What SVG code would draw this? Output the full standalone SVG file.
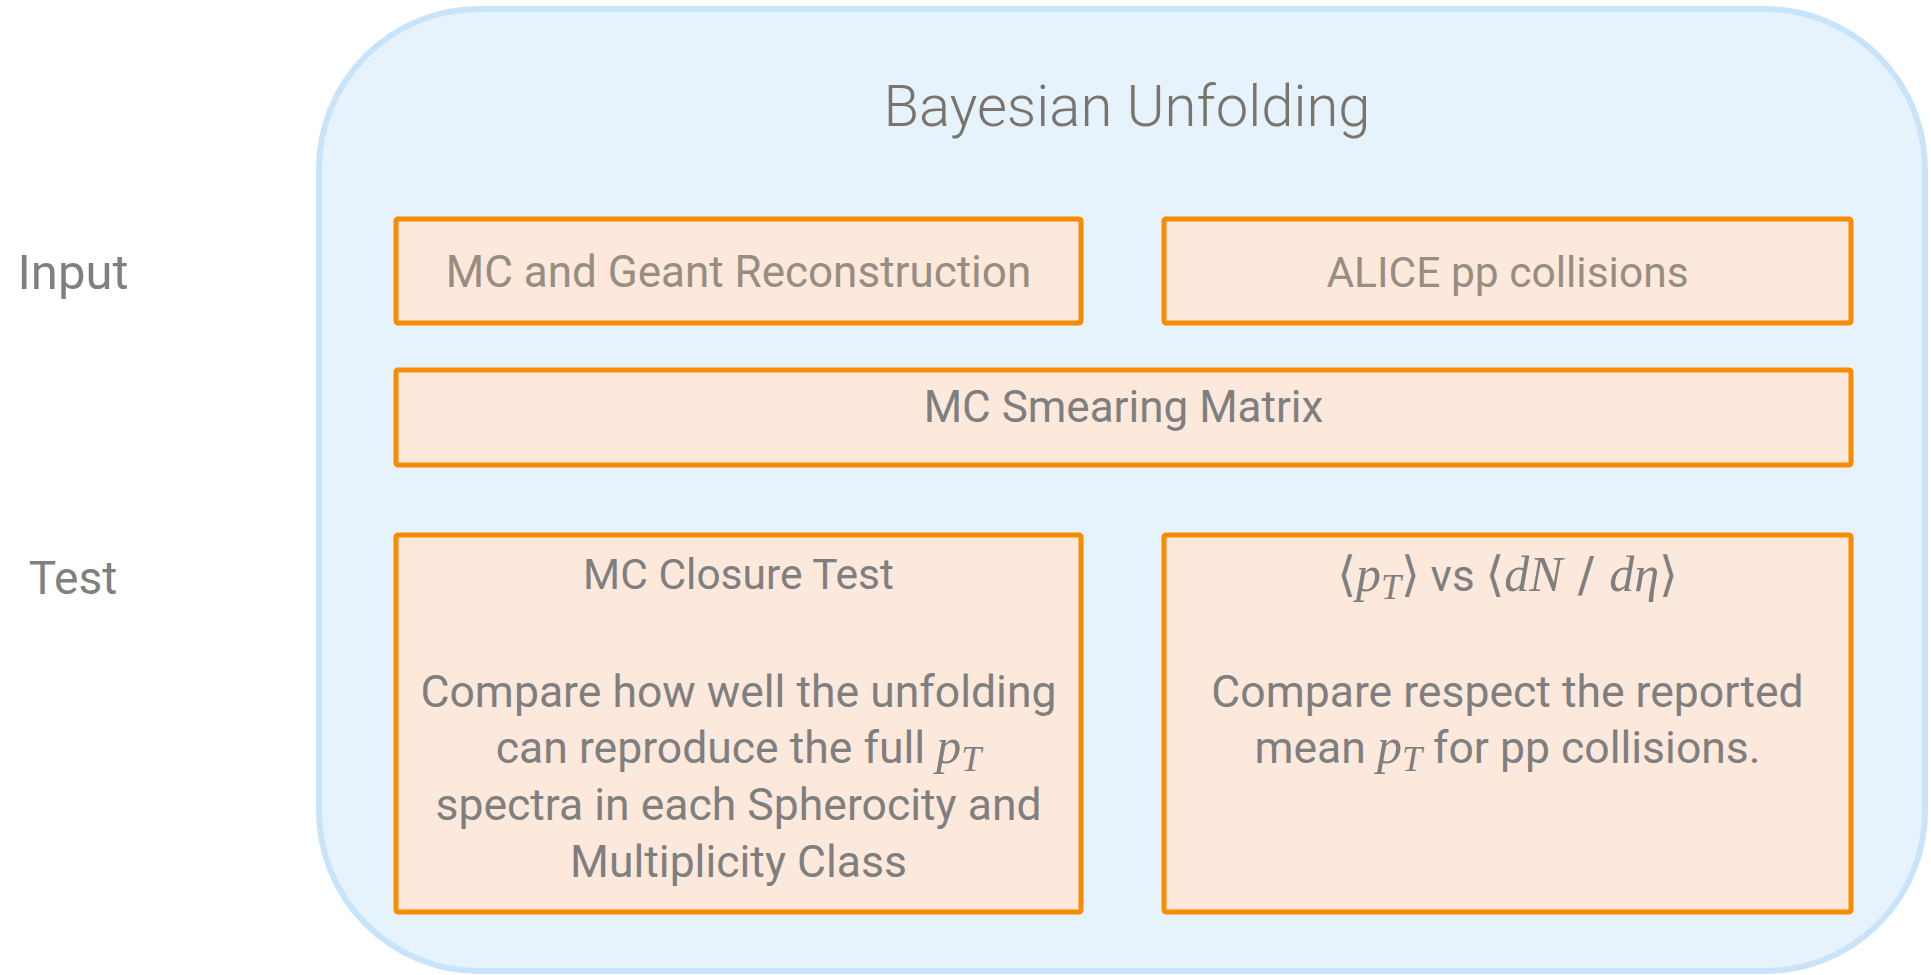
<svg xmlns="http://www.w3.org/2000/svg" width="1931" height="975" viewBox="0 0 1931 975">
  <style>
    .frame { fill: #e6f3fd; stroke: #c8e4fb; stroke-width: 6; }
    .box { fill: #fde8dc; stroke: #f98b00; stroke-width: 5; }
    text { font-family: Roboto, "Open Sans", "Liberation Sans", sans-serif; text-anchor: middle; }
    .title { font-size: 58px; font-weight: 300; fill: #7a756c; }
    .side { font-size: 49px; fill: #808080; }
    .warm { font-size: 44px; fill: #978d81; }
    .alice { font-size: 42.5px; }
    .head { font-size: 44px; fill: #7f7f7f; }
    .head2 { font-size: 42.5px; }
    .body { font-size: 44.5px; fill: #7f7f7f; }
    .m { font-family: "Liberation Serif", "DejaVu Serif", serif; font-style: italic; font-size: 50px; }
    .sub { font-size: 36px; }
    .br { font-family: "DejaVu Sans", "Liberation Serif", serif; font-style: normal; font-size: 48px; }
  </style>

  <!-- outer panel -->
  <g id="panel">
    <rect class="frame" x="319" y="9" width="1606" height="962" rx="160" ry="160"/>
    <text class="title" x="1127" y="126">Bayesian Unfolding</text>
  </g>

  <!-- row labels -->
  <g id="label-input"><text class="side" x="73" y="289">Input</text></g>
  <g id="label-test"><text class="side" x="73" y="594" style="font-size:46px">Test</text></g>

  <g id="mc-geant">
    <rect class="box" x="396" y="219" width="685" height="104" rx="2"/>
    <text class="warm" x="738.5" y="287">MC and Geant Reconstruction</text>
  </g>

  <g id="alice-pp">
    <rect class="box" x="1164" y="219" width="687" height="104" rx="2"/>
    <text class="warm alice" x="1507.5" y="287">ALICE pp collisions</text>
  </g>

  <g id="smearing-matrix">
    <rect class="box" x="396" y="370" width="1455" height="95" rx="2"/>
    <text class="head" x="1123.5" y="422">MC Smearing Matrix</text>
  </g>

  <g id="closure-test">
    <rect class="box" x="396" y="535" width="685" height="377" rx="2"/>
    <text class="head head2" x="738.5" y="589">MC Closure Test</text>
    <text class="body" x="738.5" y="707">Compare how well the unfolding</text>
    <text class="body" x="738.5" y="763">can reproduce the full <tspan class="m">p</tspan><tspan class="m sub" dy="8">T</tspan></text>
    <text class="body" x="738.5" y="820">spectra in each Spherocity and</text>
    <text class="body" x="738.5" y="877">Multiplicity Class</text>
  </g>

  <g id="mean-pt">
    <rect class="box" x="1164" y="535" width="687" height="377" rx="2"/>
    <text class="head" x="1507.5" y="591"><tspan class="br">⟨</tspan><tspan class="m">p</tspan><tspan class="m sub" dy="8">T</tspan><tspan class="br" dy="-8">⟩</tspan> vs <tspan class="br">⟨</tspan><tspan class="m">dN</tspan><tspan class="br"> / </tspan><tspan class="m">dη</tspan><tspan class="br">⟩</tspan></text>
    <text class="body" x="1507.5" y="707">Compare respect the reported</text>
    <text class="body" x="1507.5" y="763">mean <tspan class="m">p</tspan><tspan class="m sub" dy="8">T</tspan><tspan dy="-8"> for pp collisions.</tspan></text>
  </g>

  <!-- no connectors in this figure -->
  <g id="connectors"/>
</svg>
